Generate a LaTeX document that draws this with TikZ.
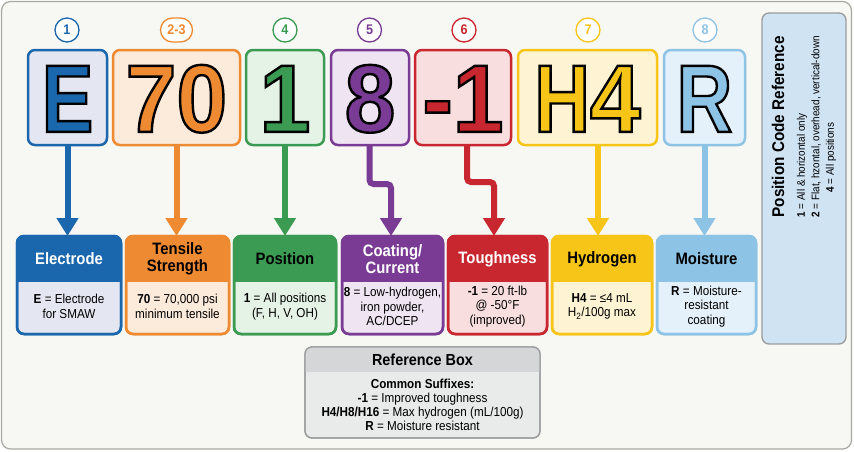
\documentclass[tikz,border=0pt]{standalone}
\usepackage{fontspec}
\setmainfont{Liberation Sans}[FakeStretch=0.9]
\newfontfamily\bigL{Liberation Sans}[FakeStretch=0.8]
\newfontfamily\bigD{Liberation Sans}[FakeStretch=0.95]
\newcommand\outl[1]{\special{pdf:code q 2 Tr 2.4 w 0 G}#1\special{pdf:code Q}}
\usetikzlibrary{arrows.meta}
\definecolor{bgc}{HTML}{F7F7F3}
\definecolor{framec}{HTML}{A8A8A3}
\definecolor{cb}{HTML}{1A67AD}
\definecolor{cbt}{HTML}{E4E7F1}
\definecolor{co}{HTML}{EE8A31}
\definecolor{cot}{HTML}{FCEADB}
\definecolor{cg}{HTML}{3B9B52}
\definecolor{cgt}{HTML}{E5F2E6}
\definecolor{cp}{HTML}{7A3B94}
\definecolor{cpt}{HTML}{EFE5F2}
\definecolor{cr}{HTML}{C9272F}
\definecolor{crt}{HTML}{F8DEDF}
\definecolor{cy}{HTML}{F6C517}
\definecolor{cyt}{HTML}{FEF4D4}
\definecolor{cl}{HTML}{8DC3E5}
\definecolor{clt}{HTML}{E4F1FA}
\definecolor{refhead}{HTML}{D4D6D7}
\definecolor{refbody}{HTML}{E9EAEA}
\definecolor{refline}{HTML}{9A9C9D}
\definecolor{posfill}{HTML}{CFE3F3}
\newcommand\BotBox[8]{%
  \node[botbox, draw=#4, fill=#5, minimum width=#3pt] (#1) at (#2,285) {};
  \begin{scope}
    \clip[rounded corners=7pt] (#1.north west) rectangle (#1.south east);
    \fill[#4] (#1.north west) rectangle ([yshift=-46pt]#1.north east);
  \end{scope}
  \draw[#4, line width=2.5pt, rounded corners=7pt] (#1.north west) rectangle (#1.south east);
  \node[headtxt, text=#6] (#1h) at ([yshift=-23pt]#1.north) {#7};
  \node[bodytxt] (#1b) at ([yshift=27.5pt]#1.south) {#8};
}
\begin{document}
\begin{tikzpicture}[x=1pt,y=-1pt,
  topbox/.style={draw, line width=2.5pt, rounded corners=7pt, minimum height=95pt,
    inner sep=0pt, outer sep=0pt, text height=68.7pt, text depth=0pt,
    font=\fontsize{96}{96}\selectfont\bfseries},
  numc/.style={circle, draw, line width=1.3pt, minimum size=24pt, inner sep=0pt,
    font=\fontsize{14}{14}\selectfont\bfseries, fill=white},
  arr/.style={line width=6pt, -{Triangle[width=21pt,length=18pt]}, rounded corners=4pt},
  botbox/.style={draw, line width=2.5pt, rounded corners=7pt, minimum height=98pt,
    inner sep=0pt, outer sep=0pt},
  headtxt/.style={font=\fontsize{16.5}{17}\selectfont\bfseries, align=center},
  bodytxt/.style={font=\fontsize{13}{14.5}\selectfont, align=center},
  reftxt/.style={font=\fontsize{13}{14}\selectfont, align=center},
  postxt/.style={rotate=90, anchor=west, font=\fontsize{11}{11}\selectfont}
]
\useasboundingbox (0,0) rectangle (854,451);
\fill[white] (0,0) rectangle (854,451);
\draw[fill=bgc, draw=framec, line width=1.2pt, rounded corners=9pt] (1.5,1.5) rectangle (851.5,449);

% number badges
\node[numc, draw=cb, text=cb] (c1) at (67,30) {1};
\node[numc, draw=co, text=co, rectangle, rounded corners=12pt, minimum width=32pt] (c23) at (176.5,30) {2-3};
\node[numc, draw=cg, text=cg] (c4) at (285,30) {4};
\node[numc, draw=cp, text=cp] (c5) at (369.5,30) {5};
\node[numc, draw=cr, text=cr] (c6) at (464,30) {6};
\node[numc, draw=cy, text=cy] (c7) at (588,30) {7};
\node[numc, draw=cl, text=cl] (c8) at (705,30) {8};

% top code boxes
\node[topbox, draw=cb, fill=cbt, text=cb, minimum width=79pt] (t1) at (67.5,97.5) {\bigL\outl{E}};
\node[topbox, draw=co, fill=cot, text=co, minimum width=127pt] (t23) at (176.5,97.5) {\bigD\outl{70}};
\node[topbox, draw=cg, fill=cgt, text=cg, minimum width=78pt] (t4) at (285,97.5) {\bigD\outl{1}};
\node[topbox, draw=cp, fill=cpt, text=cp, minimum width=78pt] (t5) at (370,97.5) {\bigD\outl{8}};
\node[topbox, draw=cr, fill=crt, text=cr, minimum width=96pt] (t6) at (463,97.5) {\bigD\outl{-1}};
\node[topbox, draw=cy, fill=cyt, text=cy, minimum width=139pt] (t7) at (587.5,97.5) {\outl{\bigL H\bigD 4}};
\node[topbox, draw=cl, fill=clt, text=cl, minimum width=81pt] (t8) at (704.5,97.5) {\bigL\outl{R}};

% bottom description boxes
\BotBox{b1}{69}{104}{cb}{cbt}{white}{Electrode}{\textbf{E} = Electrode\\for SMAW}
\BotBox{b23}{177.5}{103}{co}{cot}{black}{Tensile\\Strength}{\textbf{70} = 70,000 psi\\minimum tensile}
\BotBox{b4}{285}{102}{cg}{cgt}{black}{Position}{\textbf{1} = All positions\\(F, H, V, OH)}
\BotBox{b5}{392.5}{101}{cp}{cpt}{white}{Coating/\\Current}{\textbf{8} = Low-hydrogen,\\iron powder,\\AC/DCEP}
\BotBox{b6}{497.5}{99}{cr}{crt}{white}{Toughness}{\textbf{-1} = 20 ft-lb\\@ -50°F\\(improved)}
\BotBox{b7}{602}{100}{cy}{cyt}{black}{Hydrogen}{\textbf{H4} = ≤4 mL\\H\textsubscript{2}/100g max}
\BotBox{b8}{706.5}{99}{cl}{clt}{black}{Moisture}{\textbf{R} = Moisture-\\resistant\\coating}

% connectors
\draw[arr, cb] (t1.south) -- (t1.south |- b1.north);
\draw[arr, co] (t23.south) -- (t23.south |- b23.north);
\draw[arr, cg] (t4.south) -- (b4.north);
\draw[arr, cp] ([xshift=-0.5pt]t5.south) -- ++(0,39) -| ([xshift=-1.5pt]b5.north);
\draw[arr, cr] ([xshift=4pt]t6.south) -- ++(0,37) -| ([xshift=-3.5pt]b6.north);
\coordinate (y7) at ([xshift=-4pt]b7.north);
\draw[arr, cy] (y7 |- t7.south) -- (y7);
\draw[arr, cl] (t8.south) -- (t8.south |- b8.north);

% reference box
\node[draw=refline, fill=refbody, line width=1.3pt, rounded corners=7pt, minimum width=235pt,
  minimum height=91pt, inner sep=0pt, outer sep=0pt] (ref) at (422.5,392.5) {};
\begin{scope}
  \clip[rounded corners=7pt] (ref.north west) rectangle (ref.south east);
  \fill[refhead] (ref.north west) rectangle ([yshift=-25pt]ref.north east);
\end{scope}
\draw[refline, line width=1.3pt, rounded corners=7pt] (ref.north west) rectangle (ref.south east);
\node[font=\fontsize{16}{16}\selectfont\bfseries] (refh) at ([yshift=-12.5pt]ref.north) {Reference Box};
\node[reftxt] (refb) at (422.5,404.5) {\textbf{Common Suffixes:}\\\textbf{-1} = Improved toughness\\\textbf{H4/H8/H16} = Max hydrogen (mL/100g)\\\textbf{R} = Moisture resistant};

% position code reference
\node[draw=refline, fill=posfill, line width=1.3pt, rounded corners=7pt, minimum width=84pt,
  minimum height=331pt, inner sep=0pt, outer sep=0pt] (pos) at (804,178.5) {};
\node[rotate=90, anchor=west, font=\fontsize{17}{17}\selectfont\bfseries] (posh) at (778,221) {Position Code Reference};
\node[postxt] (pos1) at (802,221) {\textbf{1} = All \& horizontal only};
\node[postxt] (pos2) at (816,221) {\textbf{2} = Flat, hzontal, overhead, vertical-down};
\node[postxt] (pos3) at (831,196) {\textbf{4} = All positions};
\end{tikzpicture}
\end{document}
